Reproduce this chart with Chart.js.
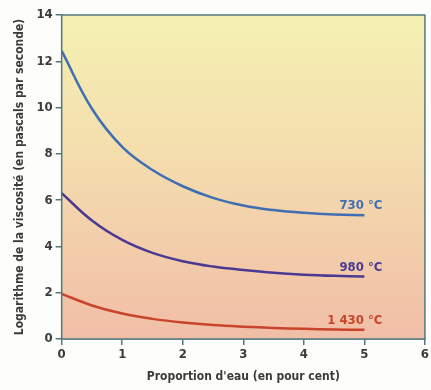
<!DOCTYPE html>
<html>
<head>
<meta charset="utf-8">
<script src="https://cdn.jsdelivr.net/npm/chart.js@4/dist/chart.umd.min.js"></script>
<style>
  html, body { margin: 0; padding: 0; background: #fdfdfb; overflow: hidden; }
  #wrap { width: 431px; height: 390px; position: relative; }
</style>
</head>
<body>
<div id="wrap"><canvas id="graph"></canvas></div>
<script>
// -------------------------
// DATA
// -------------------------
const waterPct = [0, 0.5, 1, 1.5, 2, 2.5, 3, 3.5, 4, 4.5, 5];
const visc730 = [12.45, 9.95, 8.3, 7.3, 6.6, 6.1, 5.77, 5.57, 5.45, 5.38, 5.35];
const visc980 = [6.3, 5.12, 4.28, 3.72, 3.36, 3.13, 2.98, 2.86, 2.78, 2.73, 2.7];
const visc1430 = [1.95, 1.45, 1.1, 0.87, 0.71, 0.6, 0.53, 0.48, 0.44, 0.41, 0.4];
const seriesLabels = ["730 °C", "980 °C", "1 430 °C"];
const seriesColors = ["#3f6eb2", "#4c3a92", "#c8452c"];
const xTicks = [0, 1, 2, 3, 4, 5, 6];
const yTicks = [0, 2, 4, 6, 8, 10, 12, 14];

const FRAME = "#52787e";
const TEXT = "#3b3b3b";
const FONT = "'DejaVu Sans Condensed', 'Liberation Sans Narrow', sans-serif";

function toPoints(ys) {
  return waterPct.map((x, i) => ({ x: x, y: ys[i] }));
}

// -------------------------
// PLUGINS
// -------------------------
const plotBackground = {
  id: "plotBackground",
  beforeDatasetsDraw(chart) {
    const a = chart.chartArea;
    const ctx = chart.ctx;
    const g = ctx.createLinearGradient(0, a.top, 0, a.bottom);
    g.addColorStop(0, "#f4f1b2");
    g.addColorStop(0.45, "#f4dcae");
    g.addColorStop(1, "#f1bea7");
    ctx.save();
    ctx.fillStyle = g;
    ctx.fillRect(a.left, a.top, a.right - a.left, a.bottom - a.top);
    ctx.restore();
  },
  afterDraw(chart) {
    const a = chart.chartArea;
    const ctx = chart.ctx;
    ctx.save();
    ctx.strokeStyle = FRAME;
    ctx.lineWidth = 1.5;
    ctx.strokeRect(a.left, a.top, a.right - a.left, a.bottom - a.top);
    ctx.restore();
  }
};

const endLabels = {
  id: "endLabels",
  afterDatasetsDraw(chart) {
    const ctx = chart.ctx;
    ctx.save();
    ctx.font = "bold 13px " + FONT;
    ctx.textAlign = "right";
    ctx.textBaseline = "alphabetic";
    chart.data.datasets.forEach((ds, i) => {
      const pts = chart.getDatasetMeta(i).data;
      const last = pts[pts.length - 1];
      ctx.fillStyle = seriesColors[i];
      ctx.fillText(seriesLabels[i], last.x + 18, last.y - 6);
    });
    ctx.restore();
  }
};

// -------------------------
// CHART
// -------------------------
function initChart() {
  const ctx = document.getElementById("graph").getContext("2d");

  const datasets = [visc730, visc980, visc1430].map((ys, i) => ({
    label: seriesLabels[i],
    data: toPoints(ys),
    borderColor: seriesColors[i],
    borderWidth: 2.5,
    pointRadius: 0,
    showLine: true,
    fill: false,
    tension: 0.4
  }));

  new Chart(ctx, {
    type: "scatter",
    data: { datasets: datasets },
    options: {
      responsive: true,
      maintainAspectRatio: false,
      animation: false,
      layout: { padding: { top: 15, right: 1, left: 13, bottom: 6 } },
      plugins: {
        legend: { display: false },
        tooltip: { enabled: false }
      },
      scales: {
        x: {
          type: "linear",
          min: 0,
          max: 6,
          afterBuildTicks: s => { s.ticks = xTicks.map(v => ({ value: v })); },
          border: { color: FRAME, width: 1.5 },
          grid: { drawOnChartArea: false, color: FRAME, tickLength: 6, lineWidth: 1.5 },
          ticks: {
            color: TEXT,
            font: { family: FONT, size: 13, weight: "bold" },
            padding: 2,
            maxRotation: 0
          },
          title: {
            display: true,
            text: "Proportion d'eau (en pour cent)",
            color: TEXT,
            font: { family: FONT, size: 12, weight: "bold" },
            padding: { top: 5, bottom: 0 }
          }
        },
        y: {
          type: "linear",
          min: 0,
          max: 14,
          afterBuildTicks: s => { s.ticks = yTicks.map(v => ({ value: v })); },
          border: { color: FRAME, width: 1.5 },
          grid: { drawOnChartArea: false, color: FRAME, tickLength: 6, lineWidth: 1.5 },
          ticks: {
            color: TEXT,
            font: { family: FONT, size: 13, weight: "bold" },
            padding: 3
          },
          title: {
            display: true,
            text: "Logarithme de la viscosité (en pascals par seconde)",
            color: TEXT,
            font: { family: FONT, size: 12, weight: "bold" },
            padding: { top: 0, bottom: 6 }
          }
        }
      }
    },
    plugins: [plotBackground, endLabels]
  });
}

initChart();
</script>
</body>
</html>
